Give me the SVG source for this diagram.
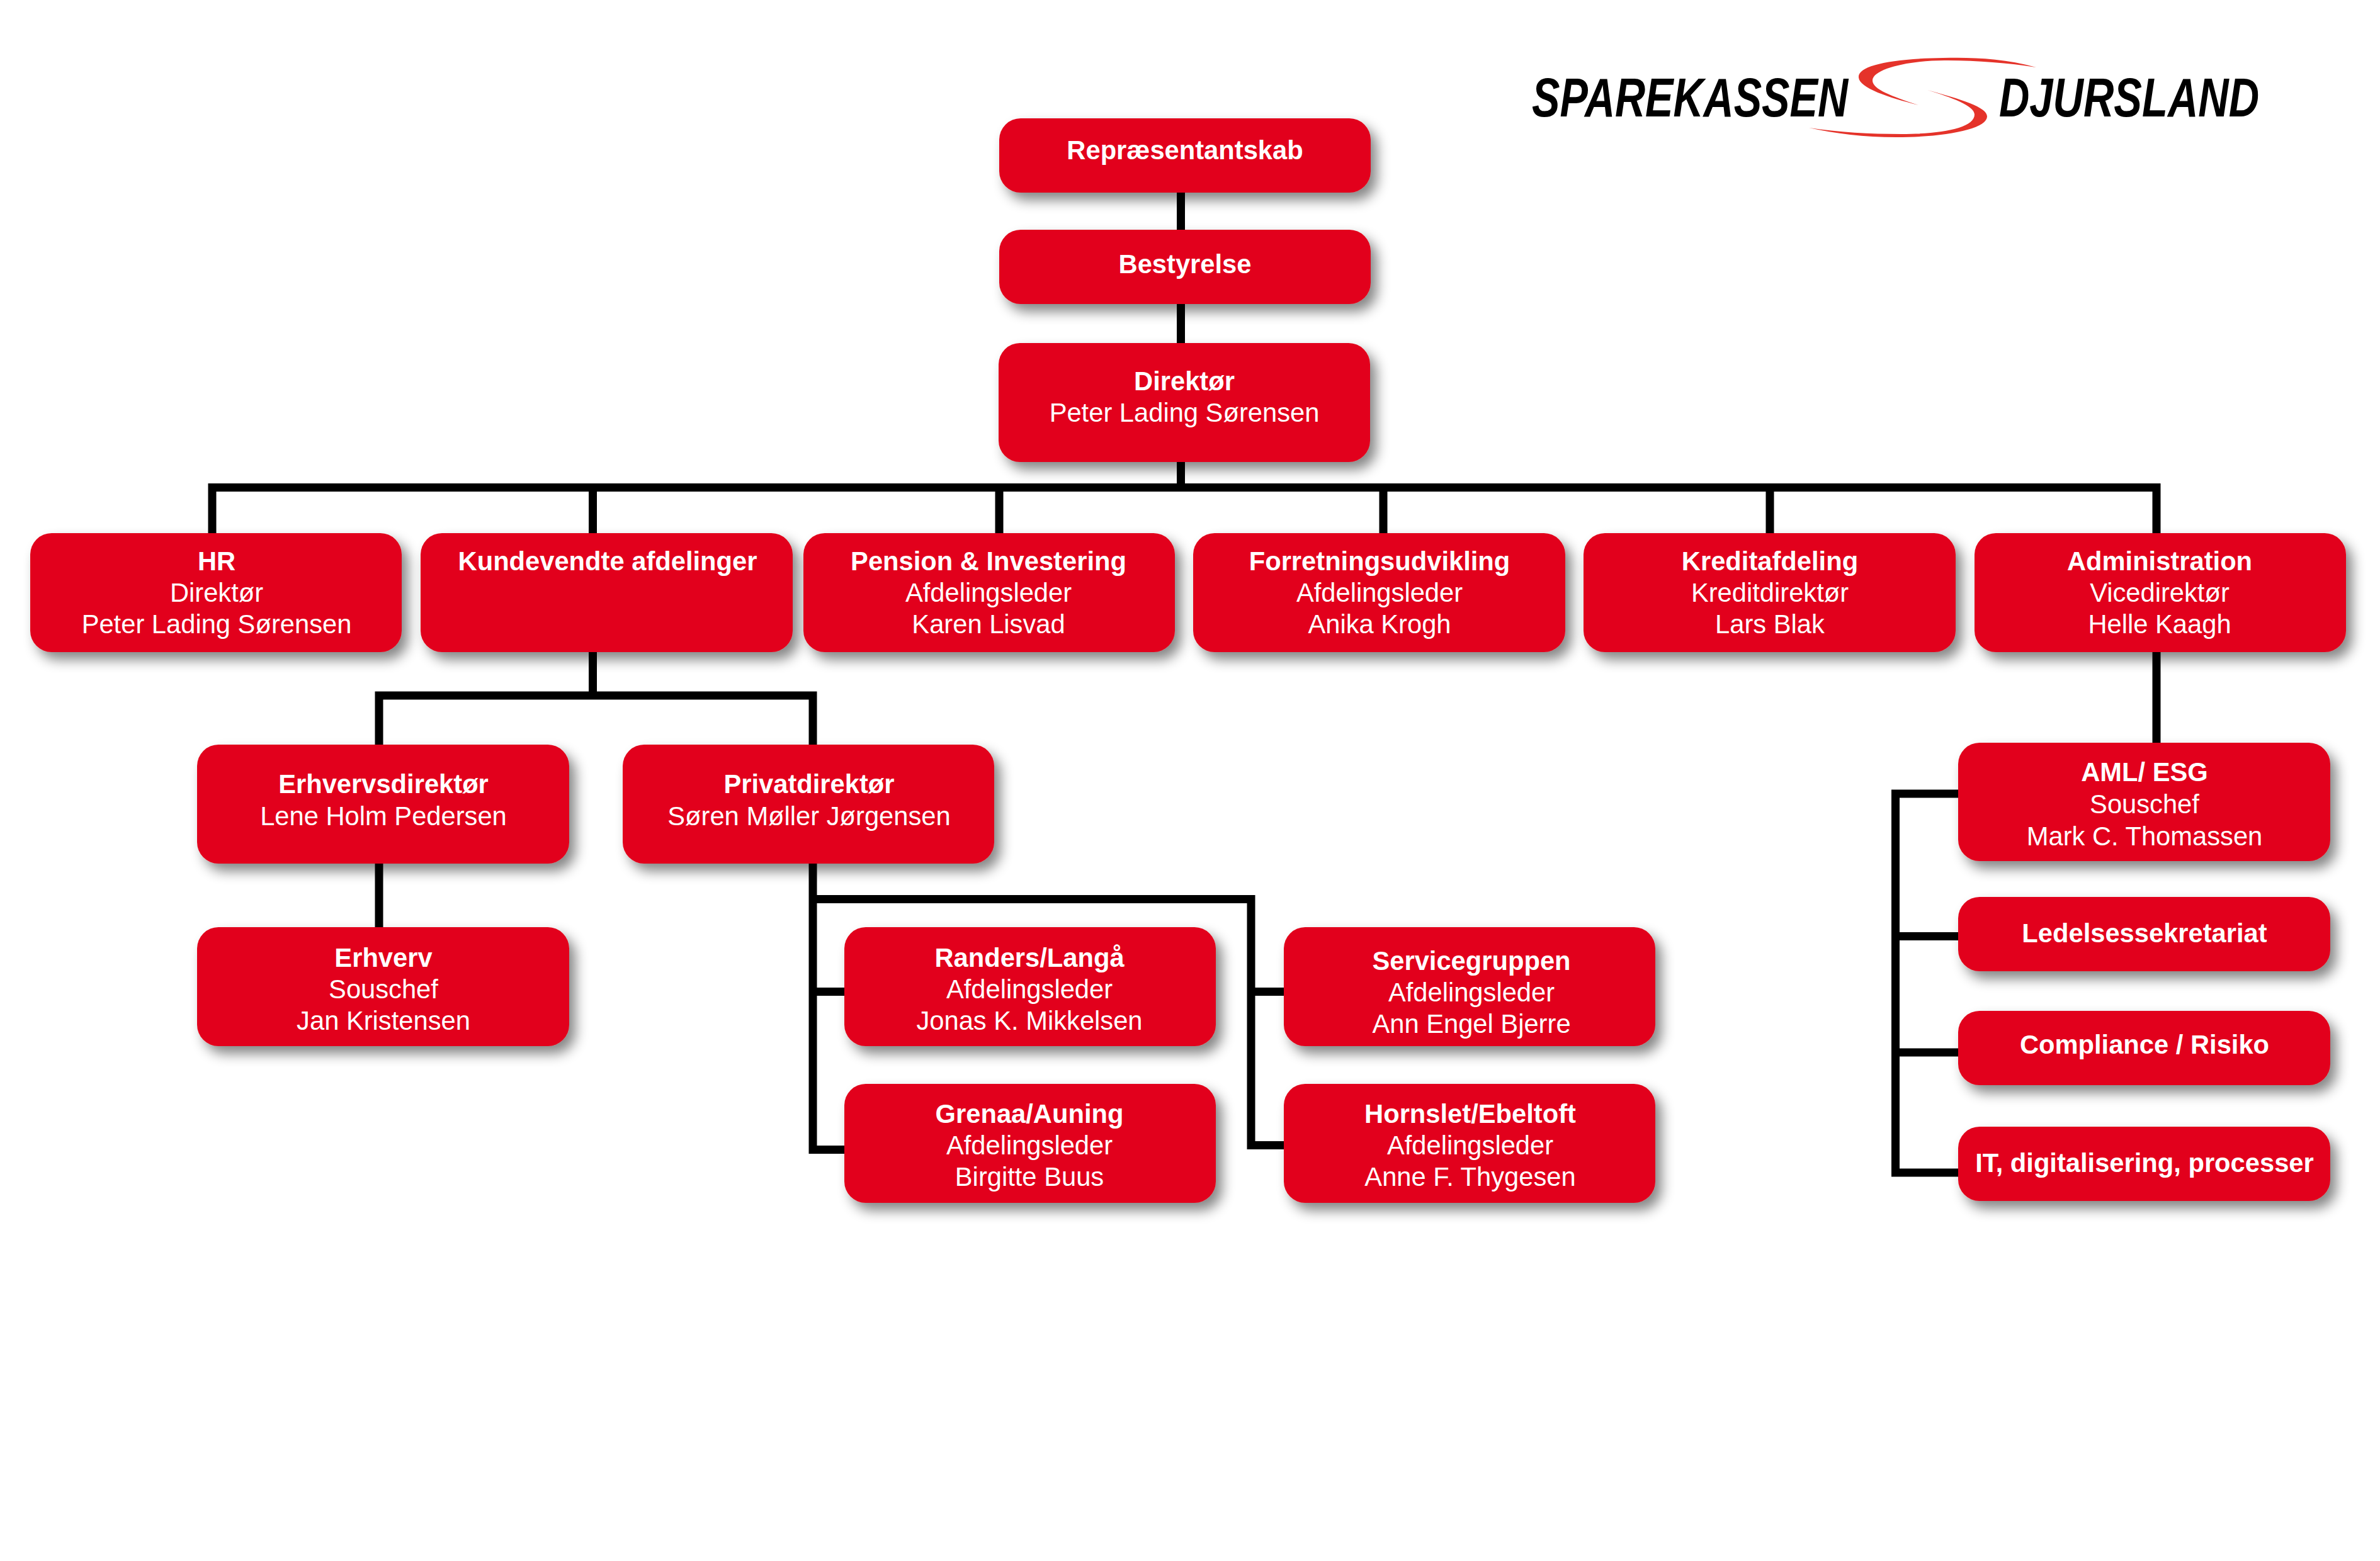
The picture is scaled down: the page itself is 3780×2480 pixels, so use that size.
<svg xmlns="http://www.w3.org/2000/svg" width="3780" height="2480" viewBox="0 0 3780 2480">
<defs>
<style>
text{font-family:"Liberation Sans",Arial,sans-serif;font-size:41.7px;fill:#fff;text-anchor:middle}
.b{font-weight:700}
.box{fill:#E2061A;filter:url(#sh)}
.c{fill:none;stroke:#000;stroke-width:13;stroke-linejoin:miter;stroke-linecap:butt}
.logo{font-style:italic;font-weight:700;font-size:87px;fill:#000;text-anchor:start}
</style>
<filter id="sh" x="-10%" y="-15%" width="125%" height="150%">
<feDropShadow dx="10" dy="12" stdDeviation="10" flood-color="#000" flood-opacity="0.48"/>
</filter>
</defs>
<rect width="3780" height="2480" fill="#fff"/>
<g id="logo">
<text class="logo" x="2433" y="185" textLength="502" lengthAdjust="spacingAndGlyphs">SPAREKASSEN</text>
<text class="logo" x="3175" y="185" textLength="413" lengthAdjust="spacingAndGlyphs">DJURSLAND</text>
<path fill="#E5332A" d="M3234 107C3180 92 3130 91 3086 92C3000 93 2950 105 2952 123C2953 140 3000 155 3047 167C3005 153 2974 142 2974 128C2974 108 3040 95 3094 96C3140 96 3190 100 3234 107Z"/>
<path fill="#E5332A" d="M3061 143C3115 158 3156 170 3156 185C3156 205 3090 218 3012 218C2960 218 2915 212 2873 203C2920 210 2970 213 3020 213C3085 213 3136 203 3136 182C3136 168 3100 155 3061 143Z"/>
</g>
<g id="n-repraesentantskab"><rect class="box" x="1587" y="188" width="590" height="118" rx="34"/><text class="b" x="1882" y="253">Repræsentantskab</text></g>
<g id="n-bestyrelse"><rect class="box" x="1587" y="365" width="590" height="118" rx="34"/><text class="b" x="1882" y="434">Bestyrelse</text></g>
<g id="n-direktor"><rect class="box" x="1586" y="545" width="590" height="189" rx="34"/><text class="b" x="1881" y="620">Direktør</text><text x="1881" y="670">Peter Lading Sørensen</text></g>
<g id="n-hr"><rect class="box" x="48" y="847" width="590" height="189" rx="34"/><text class="b" x="344" y="906">HR</text><text x="344" y="956">Direktør</text><text x="344" y="1006">Peter Lading Sørensen</text></g>
<g id="n-kunde"><rect class="box" x="668" y="847" width="591" height="189" rx="34"/><text class="b" x="965" y="906">Kundevendte afdelinger</text></g>
<g id="n-pension"><rect class="box" x="1276" y="847" width="590" height="189" rx="34"/><text class="b" x="1570" y="906">Pension &amp; Investering</text><text x="1570" y="956">Afdelingsleder</text><text x="1570" y="1006">Karen Lisvad</text></g>
<g id="n-forretning"><rect class="box" x="1895" y="847" width="591" height="189" rx="34"/><text class="b" x="2191" y="906">Forretningsudvikling</text><text x="2191" y="956">Afdelingsleder</text><text x="2191" y="1006">Anika Krogh</text></g>
<g id="n-kredit"><rect class="box" x="2515" y="847" width="591" height="189" rx="34"/><text class="b" x="2811" y="906">Kreditafdeling</text><text x="2811" y="956">Kreditdirektør</text><text x="2811" y="1006">Lars Blak</text></g>
<g id="n-admin"><rect class="box" x="3136" y="847" width="590" height="189" rx="34"/><text class="b" x="3430" y="906">Administration</text><text x="3430" y="956">Vicedirektør</text><text x="3430" y="1006">Helle Kaagh</text></g>
<g id="n-erhvervsdir"><rect class="box" x="313" y="1183" width="591" height="189" rx="34"/><text class="b" x="609" y="1260">Erhvervsdirektør</text><text x="609" y="1311">Lene Holm Pedersen</text></g>
<g id="n-privatdir"><rect class="box" x="989" y="1183" width="590" height="189" rx="34"/><text class="b" x="1285" y="1260">Privatdirektør</text><text x="1285" y="1311">Søren Møller Jørgensen</text></g>
<g id="n-erhverv"><rect class="box" x="313" y="1473" width="591" height="189" rx="34"/><text class="b" x="609" y="1536">Erhverv</text><text x="609" y="1586">Souschef</text><text x="609" y="1636">Jan Kristensen</text></g>
<g id="n-randers"><rect class="box" x="1341" y="1473" width="590" height="189" rx="34"/><text class="b" x="1635" y="1536">Randers/Langå</text><text x="1635" y="1586">Afdelingsleder</text><text x="1635" y="1636">Jonas K. Mikkelsen</text></g>
<g id="n-service"><rect class="box" x="2039" y="1473" width="590" height="189" rx="34"/><text class="b" x="2337" y="1541">Servicegruppen</text><text x="2337" y="1591">Afdelingsleder</text><text x="2337" y="1641">Ann Engel Bjerre</text></g>
<g id="n-grenaa"><rect class="box" x="1341" y="1722" width="590" height="189" rx="34"/><text class="b" x="1635" y="1784">Grenaa/Auning</text><text x="1635" y="1834">Afdelingsleder</text><text x="1635" y="1884">Birgitte Buus</text></g>
<g id="n-hornslet"><rect class="box" x="2039" y="1722" width="590" height="189" rx="34"/><text class="b" x="2335" y="1784">Hornslet/Ebeltoft</text><text x="2335" y="1834">Afdelingsleder</text><text x="2335" y="1884">Anne F. Thygesen</text></g>
<g id="n-aml"><rect class="box" x="3110" y="1180" width="591" height="188" rx="34"/><text class="b" x="3406" y="1241">AML/ ESG</text><text x="3406" y="1292">Souschef</text><text x="3406" y="1343">Mark C. Thomassen</text></g>
<g id="n-ledelse"><rect class="box" x="3110" y="1425" width="591" height="118" rx="34"/><text class="b" x="3406" y="1497">Ledelsessekretariat</text></g>
<g id="n-compliance"><rect class="box" x="3110" y="1606" width="591" height="118" rx="34"/><text class="b" x="3406" y="1674">Compliance / Risiko</text></g>
<g id="n-it"><rect class="box" x="3110" y="1790" width="591" height="118" rx="34"/><text class="b" x="3406" y="1862">IT, digitalisering, processer</text></g>
<g id="connectors">
<path class="c" d="M1875.5 306V365M1875.5 483V545M1875.5 734V781"/>
<path class="c" d="M337 847V774.5H3425V847M941.5 774.5V847M1587 774.5V847M2197 774.5V847M2811 774.5V847"/>
<path class="c" d="M602 1183V1105H1291V1183M941.5 1036V1105"/>
<path class="c" d="M602 1372V1473"/>
<path class="c" d="M1291 1372V1826.5H1341M1291 1575.5H1341M1291 1428.5H1987V1819.5H2039M1987 1575.5H2039"/>
<path class="c" d="M3425 1036V1180"/>
<path class="c" d="M3110 1261H3010.5V1863H3110M3010.5 1487.5H3110M3010.5 1672H3110"/>
</g>
</svg>
